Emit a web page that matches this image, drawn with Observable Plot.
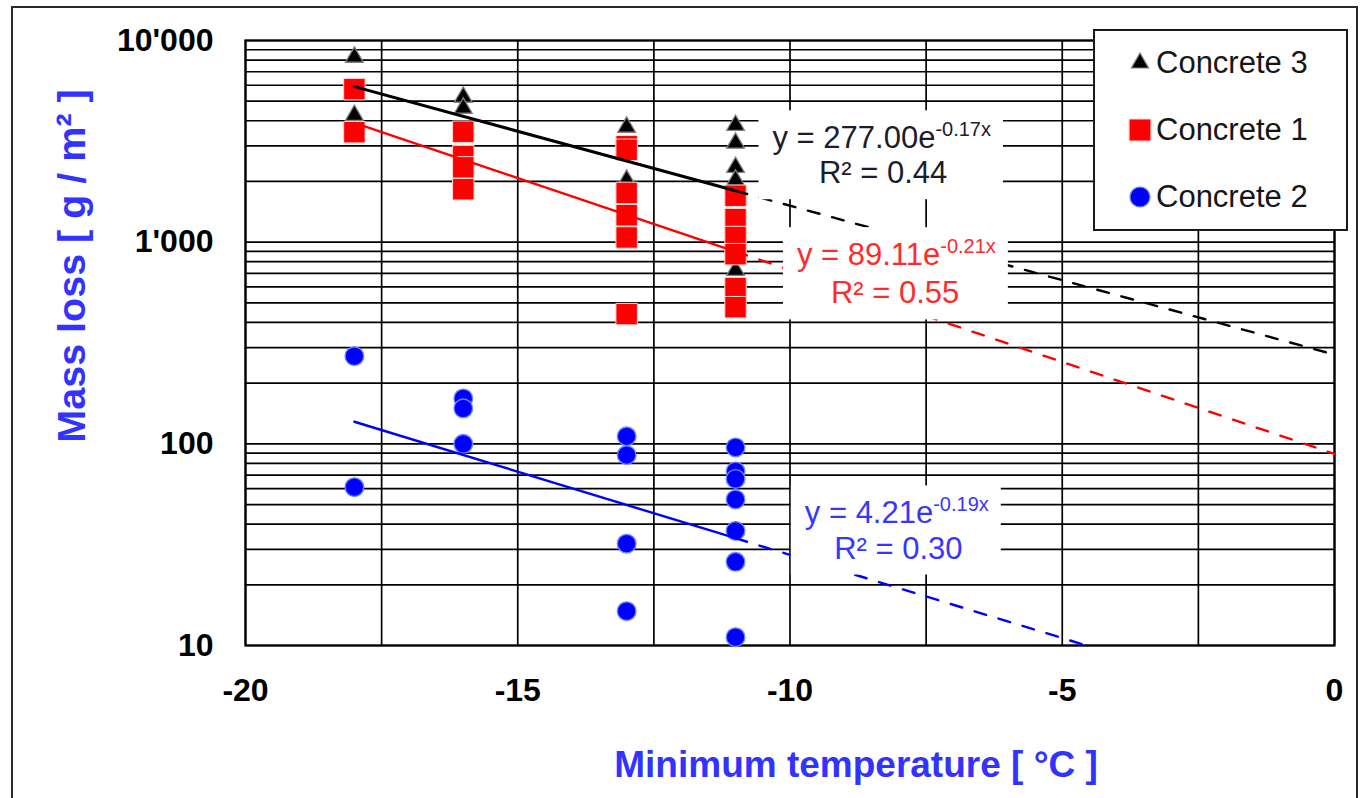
<!DOCTYPE html>
<html>
<head>
<meta charset="utf-8">
<script src="https://cdn.jsdelivr.net/npm/d3@7"></script>
<script src="https://cdn.jsdelivr.net/npm/@observablehq/plot@0.6"></script>
<style>
  html, body { margin: 0; padding: 0; background: #fff; overflow: hidden; }
  #wrap { position: relative; width: 1360px; height: 798px; font-family: "Liberation Sans", Arial, sans-serif; }
  #chartArea { position: absolute; left: 11px; top: 6px; width: 1347px; height: 830px;
               border: 2px solid #2a2a2a; box-sizing: border-box; pointer-events: none; }
  #legend { position: absolute; left: 1093px; top: 29px; width: 255px; height: 202px;
            border: 2px solid #1a1a1a; background: #fff; box-sizing: border-box; }
</style>
</head>
<body>
<div id="wrap">
  <div id="chart"></div>
  <div id="chartArea"></div>
  <div id="legend"></div>
</div>
<script>
// ---------- data ----------
const seriesNames = ["Concrete 3", "Concrete 1", "Concrete 2"];

// Concrete 3 (triangles)
const concrete3Temp = [-18, -18, -16, -16, -13, -13, -11, -11, -11, -11, -11];
const concrete3Loss = [8270, 4260, 5240, 4620, 3720, 2030, 3800, 3100, 2350, 2030, 726];

// Concrete 1 (squares)
const concrete1Temp = [-18, -18, -16, -16, -16, -16, -13, -13, -13, -13, -13, -13, -11, -11, -11, -11, -11, -11];
const concrete1Loss = [5740, 3510, 3530, 2670, 2350, 1830, 2990, 2870, 1755, 1360, 1055, 440, 1700, 1300, 1060, 872, 592, 476];

// Concrete 2 (circles)
const concrete2Temp = [-18, -18, -16, -16, -16, -13, -13, -13, -13, -11, -11, -11, -11, -11, -11, -11];
const concrete2Loss = [272, 61, 168, 150, 100, 109, 88, 32, 14.8, 96, 73, 67, 53, 37, 26, 11];

// Exponential trendlines y = a·e^(b·x), in the order of seriesNames
const fitA = [277.00, 89.11, 4.21];
const fitB = [-0.17, -0.21, -0.19];
const fitR2 = [0.44, 0.55, 0.30];
const forecastTo = 0;

// Axes
const xTicks = [-20, -15, -10, -5, 0];
const xGrid = [-20, -17.5, -15, -12.5, -10, -7.5, -5, -2.5, 0];
const yTicks = [10, 100, 1000, 10000];
const yTickLabels = ["10", "100", "1'000", "10'000"];
const yGrid = [10, 20, 30, 40, 50, 60, 70, 80, 90,
               100, 200, 300, 400, 500, 600, 700, 800, 900,
               1000, 2000, 3000, 4000, 5000, 6000, 7000, 8000, 9000, 10000];

// ---------- styling ----------
const FONT = "'Liberation Sans', Arial, Helvetica, sans-serif";
const seriesColor = ["#000000", "#ff0000", "#0000ff"];
const labelColor = ["#1c1c2a", "#ff2b2b", "#3636ff"];
const titleColor = "#3333ff";
const Y_MIN = 10, Y_MAX = 10000;

// equation label placement (temperature, mass loss) for each fit
const eqAnchor = [
  {x: -7.33, y: 2920, rx: -8.29, ry: 1960},
  {x: -7.24, y: 769,  rx: -8.07, ry: 497},
  {x: -7.37, y: 40.3, rx: -8.01, ry: 27.0}
];

// ---------- derived tables ----------
const toRows = (temps, losses) => temps.map((t, i) => ({temp: t, loss: losses[i]}));
const rows = [toRows(concrete3Temp, concrete3Loss), toRows(concrete1Temp, concrete1Loss), toRows(concrete2Temp, concrete2Loss)];
const seriesTemps = [concrete3Temp, concrete1Temp, concrete2Temp];

const fit = (k, x) => fitA[k] * Math.exp(fitB[k] * x);
const solidSeg = [], dashSeg = [];
seriesNames.forEach((name, k) => {
  const x0 = d3.min(seriesTemps[k]), x1 = d3.max(seriesTemps[k]);
  solidSeg.push([{temp: x0, loss: fit(k, x0)}, {temp: x1, loss: fit(k, x1)}]);
  let xe = forecastTo;
  if (fit(k, xe) < Y_MIN) xe = Math.log(Y_MIN / fitA[k]) / fitB[k];
  dashSeg.push([{temp: x1, loss: fit(k, x1)}, {temp: xe, loss: fit(k, xe)}]);
});

const eqRows = seriesNames.map((name, k) => ({
  k,
  main: `y = ${fitA[k].toFixed(2)}e`,
  exp: `${fitB[k].toFixed(2)}x`,
  r2: `R² = ${fitR2[k].toFixed(2)}`,
  ...eqAnchor[k]
}));

// ---------- marks ----------
const symbolStyle = [
  {symbol: "triangle", r: 6.6, fill: "#000", stroke: "#808080", strokeWidth: 1.3},
  {symbol: "square", r: 12.1, fill: "#ff0000", stroke: "#ffd6d6", strokeWidth: 1},
  {symbol: "circle", r: 9.3, fill: "#0000ff", stroke: "#6b86ff", strokeWidth: 1.4}
];

const marks = [
  Plot.ruleY(yGrid, {stroke: "#000", strokeWidth: 1.7}),
  Plot.ruleX(xGrid, {stroke: "#000", strokeWidth: 1.7}),
  Plot.frame({stroke: "#000", strokeWidth: 2.2})
];

rows.forEach((data, k) => {
  marks.push(Plot.dot(data, {x: "temp", y: "loss", ...symbolStyle[k]}));
});

solidSeg.forEach((seg, k) => {
  marks.push(Plot.line(seg, {x: "temp", y: "loss", stroke: seriesColor[k], strokeWidth: k === 0 ? 3 : 2.4}));
});
dashSeg.forEach((seg, k) => {
  marks.push(Plot.line(seg, {x: "temp", y: "loss", stroke: seriesColor[k], strokeWidth: 2.4, strokeDasharray: "12,13"}));
});

marks.push(
  Plot.text(eqRows, {x: "x", y: "y", text: "main", textAnchor: "end", fontSize: 31,
                     fill: d => labelColor[d.k], lineAnchor: "bottom"}),
  Plot.text(eqRows, {x: "x", y: "y", text: "exp", textAnchor: "start", fontSize: 20, dy: -12,
                     fill: d => labelColor[d.k], lineAnchor: "bottom"}),
  Plot.text(eqRows, {x: "rx", y: "ry", text: "r2", textAnchor: "middle", fontSize: 31,
                     fill: d => labelColor[d.k], lineAnchor: "bottom"})
);

// tick labels
marks.push(
  Plot.text(yTicks, {y: d => d, text: (d, i) => yTickLabels[i], frameAnchor: "left", textAnchor: "end",
                     lineAnchor: "middle", dx: -32, fontSize: 32, fontWeight: "bold", fill: "#000"}),
  Plot.text(xTicks, {x: d => d, text: d => String(d), frameAnchor: "bottom", textAnchor: "middle",
                     lineAnchor: "middle", dy: 45, fontSize: 32, fontWeight: "bold", fill: "#000"})
);

// axis titles
marks.push(
  Plot.text(["Minimum temperature [ °C ]"], {frameAnchor: "bottom", textAnchor: "middle", lineAnchor: "middle",
                     dx: 66, dy: 120, fontSize: 37, fontWeight: "bold", fill: titleColor}),
  Plot.text(["Mass loss [ g / m² ]"], {frameAnchor: "left", textAnchor: "middle", lineAnchor: "middle",
                     rotate: -90, dx: -173, dy: -77, fontSize: 39.5, fontWeight: "bold", fill: titleColor})
);

const plot = Plot.plot({
  width: 1360,
  height: 798,
  marginLeft: 245,
  marginRight: 26,
  marginTop: 40,
  marginBottom: 153,
  x: {domain: [-20, 0], axis: null},
  y: {type: "log", domain: [Y_MIN, Y_MAX], axis: null},
  style: {fontFamily: FONT, background: "transparent", overflow: "visible"},
  marks
});
document.getElementById("chart").appendChild(plot);

// white boxes behind the trendline equations
(function addLabelBoxes() {
  const texts = Array.from(plot.querySelectorAll("text"));
  const origin = plot.getBoundingClientRect();
  const layer = document.createElementNS("http://www.w3.org/2000/svg", "g");
  let firstTop = null;
  eqRows.forEach((d) => {
    const parts = [d.main, d.exp, d.r2].map(s => texts.find(t => t.textContent === s)).filter(Boolean);
    if (!parts.length) return;
    if (!firstTop) {
      let node = parts[0];
      while (node.parentNode && node.parentNode !== plot) node = node.parentNode;
      firstTop = node;
    }
    let x0 = Infinity, y0 = Infinity, x1 = -Infinity, y1 = -Infinity;
    parts.forEach(t => {
      const b = t.getBoundingClientRect();
      x0 = Math.min(x0, b.left); y0 = Math.min(y0, b.top);
      x1 = Math.max(x1, b.right); y1 = Math.max(y1, b.bottom);
    });
    const r = document.createElementNS("http://www.w3.org/2000/svg", "rect");
    r.setAttribute("x", x0 - origin.left - 14);
    r.setAttribute("y", y0 - origin.top - 8);
    r.setAttribute("width", x1 - x0 + 26);
    r.setAttribute("height", y1 - y0 + 17);
    r.setAttribute("fill", "#fff");
    layer.appendChild(r);
  });
  if (firstTop && firstTop.parentNode === plot) plot.insertBefore(layer, firstTop);
})();

// legend
(function drawLegend() {
  const svg = d3.select("#legend").append("svg").attr("width", 251).attr("height", 198);
  const rowsY = [32, 99, 166];
  const shapes = [
    {type: d3.symbolTriangle, size: 6.4 * 6.4 * Math.PI, fill: "#000", stroke: "#808080"},
    {type: d3.symbolSquare, size: 22 * 22, fill: "#ff0000", stroke: "#ffd6d6"},
    {type: d3.symbolCircle, size: 10 * 10 * Math.PI, fill: "#0000ff", stroke: "#6b86ff"}
  ];
  seriesNames.forEach((name, k) => {
    svg.append("path")
      .attr("d", d3.symbol(shapes[k].type, shapes[k].size)())
      .attr("transform", `translate(45,${rowsY[k]})`)
      .attr("fill", shapes[k].fill)
      .attr("stroke", shapes[k].stroke)
      .attr("stroke-width", 1.2);
    svg.append("text")
      .attr("x", 61)
      .attr("y", rowsY[k] + 10)
      .attr("font-family", FONT)
      .attr("font-size", 31)
      .attr("fill", "#161616")
      .text(name);
  });
})();
</script>
</body>
</html>
